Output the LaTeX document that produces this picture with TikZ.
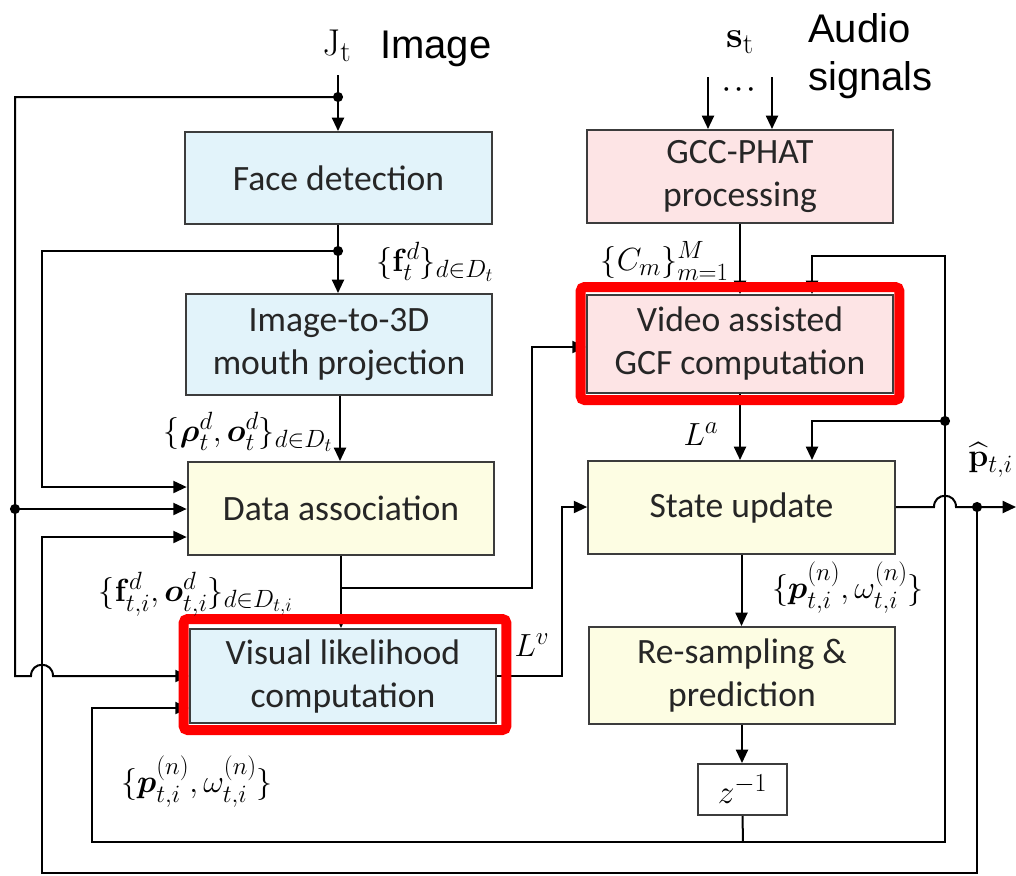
\RequirePackage{fix-cm}
\documentclass[tikz,border=0pt]{standalone}
\usepackage{amsmath}
\usepackage{bm}
\usepackage[no-math]{fontspec}
\setmainfont{Carlito}
\newfontfamily\headfont{Liberation Sans}
\usetikzlibrary{arrows.meta,calc}
\renewcommand{\defaultscriptratio}{.78}
\renewcommand{\defaultscriptscriptratio}{.6}
\definecolor{boxblue}{HTML}{E2F3FA}
\definecolor{boxpink}{HTML}{FDE4E5}
\definecolor{boxyellow}{HTML}{FDFDE3}
\definecolor{boxline}{HTML}{3C3C3C}
\definecolor{alertred}{HTML}{FF0000}

\begin{document}
\begin{tikzpicture}[x=0.75pt,y=-0.75pt,
  box/.style={draw=boxline, line width=1.5pt, minimum width=230pt, inner sep=0pt,
              align=center, text=black!85, font=\fontsize{26.7}{32.25}\selectfont},
  smallbox/.style={draw=boxline, line width=1.5pt, minimum width=66.75pt,
              minimum height=38.25pt, inner sep=0pt, fill=white, font=\fontsize{25}{30}\selectfont},
  wire/.style={line width=1.5pt, black},
  arr/.style={wire, -{Triangle[length=10pt,width=9pt]}},
  lbl/.style={inner sep=0pt, font=\fontsize{24}{28}\selectfont},
  head/.style={inner sep=0pt, font=\headfont\fontsize{30}{36}\selectfont},
  frame/.style={draw=alertred, line width=7.5pt, rounded corners=3pt}
]
\useasboundingbox (0,0) rectangle (1016,875);

% ---------- processing blocks ----------
\node[box, fill=boxblue,   minimum height=69pt]    (face)   at (338.5,178)   {Face detection};
\node[box, fill=boxblue,   minimum height=75.75pt] (img3d)  at (339,344.5)   {Image-to-3D\\mouth projection};
\node[box, fill=boxyellow, minimum height=69.75pt] (assoc)  at (341,508.5)   {Data association};
\node[box, fill=boxblue,   minimum height=70.5pt]  (vislik) at (343,676)     {Visual likelihood\\computation};
\node[box, fill=boxpink,   minimum height=69.75pt] (gcc)    at (740,176.5)   {GCC-PHAT\\processing};
\node[box, fill=boxpink,   minimum height=73.5pt]  (vgcf)   at (740,344)     {Video assisted\\GCF computation};
\node[box, fill=boxyellow, minimum height=69.75pt] (state)  at (741.5,507.5) {State update};
\node[box, fill=boxyellow, minimum height=72.75pt] (resamp) at (742,675.5)   {Re-sampling \&\\prediction};
\node[smallbox] (zinv) at (742.5,789.5) {$z^{-1}$};

% ---------- junctions and bends ----------
\coordinate (jtop) at (338,75);
\coordinate (jdot) at (338,97);
\coordinate (fdot) at (338,251);
\coordinate (railA) at (15,676);
\coordinate (adot) at (15,509);
\coordinate (hopAa) at (31,676);
\coordinate (hopAb) at (53,676);
\coordinate (t487) at (42,487);
\coordinate (t537) at (42,537);
\coordinate (b873) at (42,873);
\coordinate (split) at (341,588);
\coordinate (up532) at (532,347);
\coordinate (up562) at (562,507);
\coordinate (s1) at (708,77);
\coordinate (s2) at (772,77);
\coordinate (zb) at (743,842);
\coordinate (l92) at (92,708);
\coordinate (c945) at (945,256);
\coordinate (d421) at (945,421);
\coordinate (gin) at (812,0);
\coordinate (hopBa) at (934,507);
\coordinate (hopBb) at (956,507);
\coordinate (pdot) at (977,507);
\coordinate (pout) at (1016,507);

% ---------- video branch ----------
\draw[arr] (jtop) -- (jtop |- face.north);
\draw[arr] (face.south -| jtop) -- (jtop |- img3d.north);
\draw[arr] (img3d.south -| 340,0) -- (340,0 |- assoc.north);
\draw[arr] (assoc.south -| split) -- (split |- vislik.north);
\draw[arr] (jdot) -| (railA) -- (hopAa)
  .. controls ($(hopAa)+(0,-15)$) and ($(hopAb)+(0,-15)$) .. (hopAb) -- (vislik.west);
\draw[arr] (adot) -- (adot -| assoc.west);
\draw[arr] (fdot) -| (t487) -- (t487 -| assoc.west);
\draw[arr] (pdot) |- (b873) -- (t537) -- (t537 -| assoc.west);
\draw[arr] (split) -| (up532) -- (up532 -| vgcf.west);
\draw[arr] (vislik.east) -| (up562) -- (up562 -| state.west);
\fill (jdot) circle (3.8pt);
\fill (fdot) circle (3.8pt);
\fill (adot) circle (3.8pt);

% ---------- audio branch ----------
\draw[arr] (s1) -- (s1 |- gcc.north);
\draw[arr] (s2) -- (s2 |- gcc.north);
\draw[arr] (gcc.south) -- (gcc.south |- vgcf.north);
\draw[arr] (vgcf.south) -- (vgcf.south |- state.north);
\draw[arr] (state.south) -- (state.south |- resamp.north);
\draw[arr] (resamp.south) -- (resamp.south |- zinv.north);
\draw[wire] (zinv.south) -- (zb);
\draw[arr] (zb) -| (l92) -- (l92 -| vislik.west);
\draw[arr] (zb) -| (c945) -| (gin |- vgcf.north);
\draw[arr] (d421) -| (gin |- state.north);
\fill (d421) circle (3.8pt);
\draw[arr] (state.east |- hopBa) -- (hopBa)
  .. controls ($(hopBa)+(0,-15)$) and ($(hopBb)+(0,-15)$) .. (hopBb) -- (pout);
\fill (pdot) circle (3.8pt);

% ---------- highlighted blocks ----------
\draw[frame] ($(vislik.north west)+(-5,-9)$) rectangle ($(vislik.south east)+(9,6)$);
\draw[frame] ($(vgcf.north west)+(-5,-7)$) rectangle ($(vgcf.south east)+(5,6)$);

% ---------- labels ----------
\node[lbl, font=\fontsize{28}{32}\selectfont] (jlab) at (337,46) {$\mathrm{J}_{\mathrm{t}}$};
\node[head, anchor=base west] (imglab) at (380,58) {Image};
\node[lbl, font=\fontsize{28}{32}\selectfont] (slab) at (740,42) {$\mathbf{s}_{\mathrm{t}}$};
\node[lbl, font=\fontsize{18}{22}\selectfont] (dots) at (741,90) {$\boldsymbol{\cdots}$};
\node[head, anchor=base west, align=left] (audlab) at (808,90) {Audio\\signals};
\node[lbl, anchor=west] (flab) at (376,262) {$\{\mathbf{f}_t^d\}_{d\in D_t}$};
\node[lbl, anchor=east] (rholab) at (333,432) {$\{\bm{\rho}_t^d,\bm{o}_t^d\}_{d\in D_t}$};
\node[lbl] (folab) at (196,594) {$\{\mathbf{f}_{t,i}^d,\bm{o}_{t,i}^d\}_{d\in D_{t,i}}$};
\node[lbl] (lvlab) at (532,645) {$L^{v}$};
\node[lbl] (pwlab1) at (197,782) {$\{\bm{p}_{t,i}^{(n)},\omega_{t,i}^{(n)}\}$};
\node[lbl] (pwlab2) at (848,588) {$\{\bm{p}_{t,i}^{(n)},\omega_{t,i}^{(n)}\}$};
\node[lbl, anchor=east] (cmlab) at (729,261) {$\{C_m\}_{m=1}^M$};
\node[lbl] (lalab) at (701,434) {$L^a$};
\node[lbl, anchor=west] (phlab) at (968,460) {$\widehat{\mathbf{p}}_{t,i}$};
\end{tikzpicture}
\end{document}
